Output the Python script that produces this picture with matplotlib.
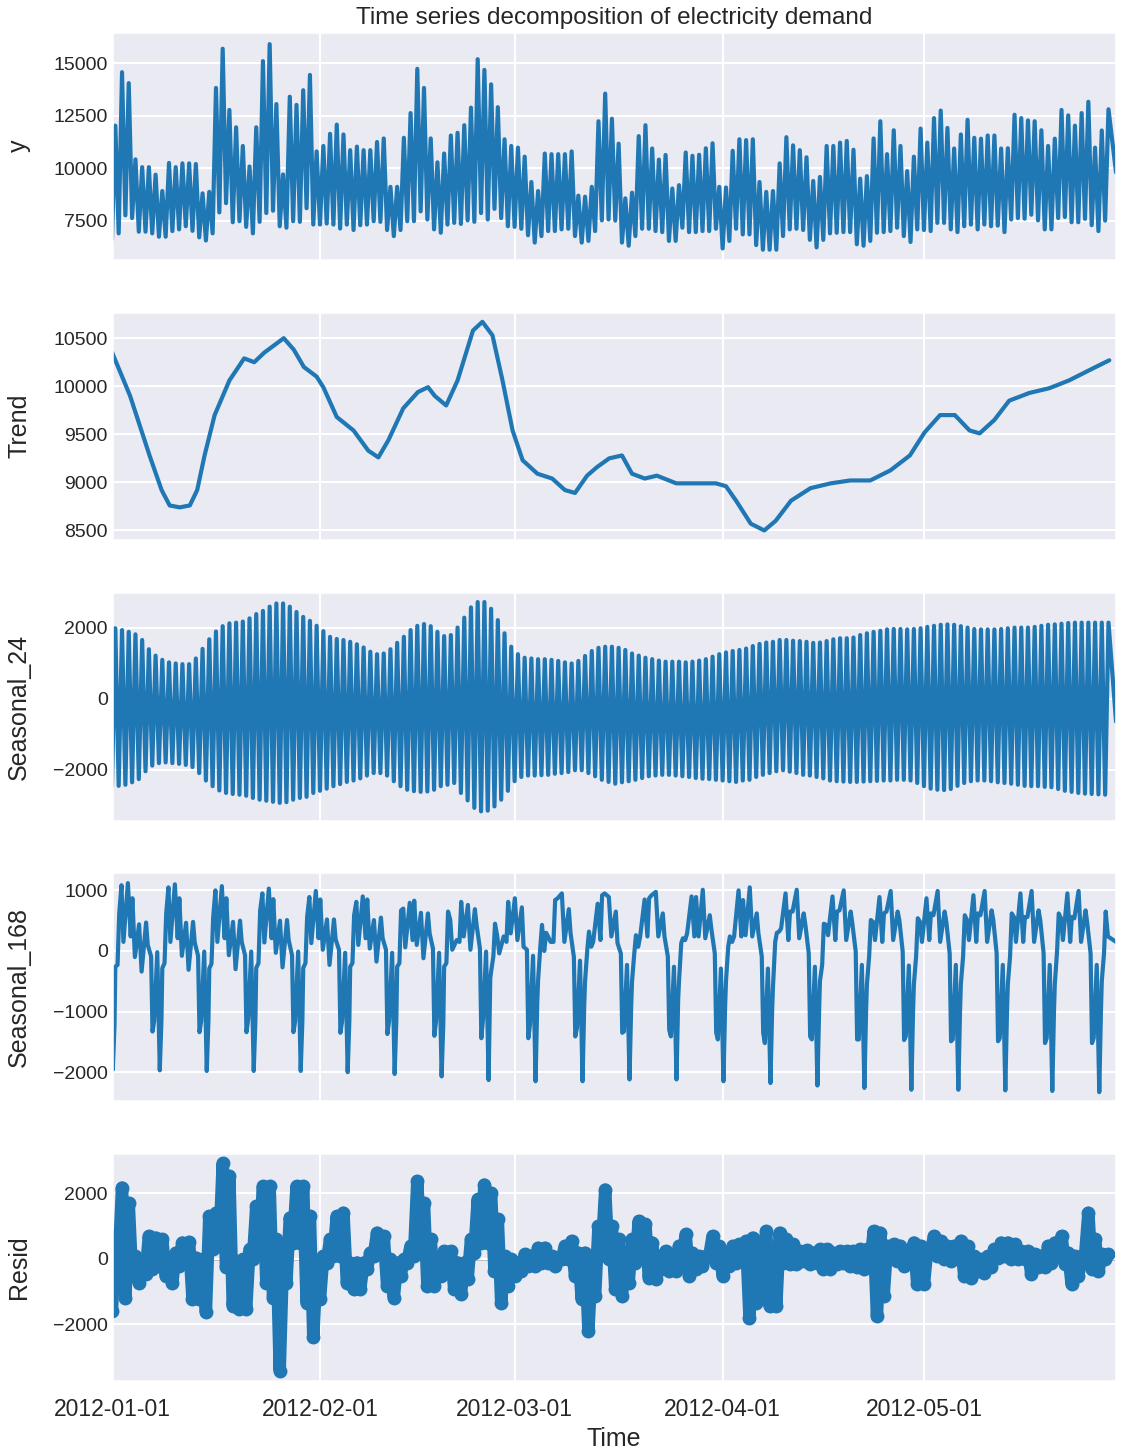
import matplotlib

matplotlib.use("Agg")
import matplotlib.dates as mdates  # noqa: E402
import matplotlib.pyplot as plt  # noqa: E402
import numpy as np  # noqa: E402
import pandas as pd  # noqa: E402
import seaborn as sns  # noqa: E402

START = pd.Timestamp("2012-01-01 00:00")
END = pd.Timestamp("2012-05-29 15:00")
BLUE = "#1f77b4"

# observed demand: daily minimum (start of day) and daily peak (midday), day 0 = 2012-01-01
y_low = [6600,
         6890, 7750, 7620, 6970, 6970, 6890, 6730, 6730, 7000, 7080, 7230, 7010, 6700, 6550, 6890, 7890,
         8330, 7420, 7470, 7200, 6890, 7440, 7860, 7970, 7230, 7160, 7470, 7440, 8090, 7310, 7310, 7360,
         7310, 7120, 7310, 7050, 7280, 7310, 7470, 7440, 7050, 6760, 7050, 7470, 7470, 7940, 7550, 7080,
         6920, 7310, 7390, 7340, 7510, 7440, 7860, 7550, 8060, 7620, 7230, 7200, 7110, 6800, 6450, 6760,
         7000, 7000, 7080, 7110, 6760, 6450, 6530, 7000, 7510, 7550, 7500, 6450, 6300, 6760, 7110, 7110,
         7000, 6950, 6530, 6530, 7160, 6950, 6950, 7000, 7000, 7110, 6170, 6530, 7110, 6840, 6840, 6330,
         6110, 6110, 6110,
         6760, 7080, 7110, 7050, 6580, 6220, 6580, 6890, 6920, 6950, 6950, 6370, 6300, 6530, 6920, 6950,
         7000, 7160, 6760, 6480, 7080, 7050, 7000, 7390, 7390, 7080, 6950, 7230, 7310, 7080, 7310, 7230,
         7260, 6950, 7550, 7620, 7590, 7780, 7510, 7080, 7080, 7620, 7670, 7420, 7420, 7580, 7280, 7000,
         7500]
y_high = [12030, 14580, 14060, 10420, 10050, 10050, 9690, 8910, 10250, 10050, 10230, 10230, 10200, 8800,
          8870, 13830, 15700, 12780, 11950, 11060, 10080, 11950, 15110, 15920, 13060, 9700, 13410, 13020,
          13720, 14450, 10800, 11060, 11640, 12080, 11610, 10860, 11030, 10860, 10860, 11250, 11420, 9110,
          9110, 11450, 12630, 14740, 13830, 11420,
          10280, 10700, 11560, 11690, 12050, 12890, 15200, 14690, 14000, 12910, 11380, 11060, 10980, 10550,
          9340, 8910, 10700, 10670, 10670, 10670, 10800, 8690, 8640, 9110, 12240, 13560, 12360, 11170,
          8560, 8830, 11530, 12050, 10940, 10410, 10630, 9030, 9190, 10750, 10590, 10640, 10950, 11190,
          9110, 9080, 10830, 11380, 11340, 11380, 9340, 8870, 8910,
          10230, 11480, 11090, 10860, 10520, 9390, 9580, 11060, 11060, 11220, 11300, 10880, 9500, 9620,
          11420, 12240, 10670, 11810, 11060, 9860, 10550, 11890, 11220, 12390, 12750, 11920, 10940, 11610,
          12310, 11450, 11410, 11560, 11560, 10940, 10950, 12550, 12390, 12280, 12240, 11810, 11060, 11410,
          12780, 12520, 12030, 12630, 13170, 10980, 11800, 12810]
y_end = 9800

# trend: (day offset, value)
trend_points = [
    (0, 10355), (2.7, 9900), (5.6, 9280), (7.4, 8920), (8.6, 8760), (10.1, 8740), (11.6, 8760),
    (12.7, 8920), (13.8, 9280), (15.3, 9700), (17.5, 10060), (19.7, 10290), (21.2, 10250),
    (22.7, 10350), (25.6, 10500), (27.1, 10380), (28.6, 10200), (30.5, 10100), (31.5, 9990),
    (33.5, 9680), (36.0, 9540), (38.2, 9330), (39.7, 9260), (41.2, 9440), (43.4, 9770), (45.6, 9940),
    (47.1, 9990), (48.1, 9900), (49.8, 9800), (51.5, 10060), (53.8, 10580), (55.2, 10670),
    (56.7, 10530), (58.2, 10060), (59.7, 9540), (61.2, 9230), (63.4, 9090), (65.6, 9040),
    (67.5, 8920), (69.0, 8890), (70.8, 9070), (72.3, 9160), (74.1, 9250), (76.0, 9280), (77.5, 9090),
    (79.4, 9040), (81.2, 9070), (84.1, 8990), (87.1, 8990), (90.0, 8990), (91.5, 8960), (93.0, 8810),
    (95.2, 8570), (97.2, 8500), (98.9, 8600), (101.2, 8810), (104.1, 8940), (107.1, 8990),
    (110.0, 9020), (113.0, 9020), (116.0, 9125), (118.9, 9280), (121.1, 9520), (123.4, 9700),
    (125.6, 9700), (127.8, 9540), (129.3, 9510), (131.5, 9650), (133.7, 9850), (136.7, 9930),
    (139.7, 9980), (142.6, 10060), (146.3, 10190), (148.62, 10270),
]

# daily seasonal component: daily trough (start of day) and daily crest
s24_low = [-2450,
           -2450, -2420, -2350, -2260, -2040, -1880, -1810, -1790, -1810, -1830, -1860, -1920, -2090,
           -2300, -2460, -2580, -2650, -2680, -2700, -2730, -2790, -2840, -2870, -2900, -2930, -2910,
           -2840, -2790, -2760, -2650, -2590, -2530, -2460, -2400, -2340, -2300, -2240, -2160, -2090,
           -2090, -2160, -2320, -2460, -2560, -2600, -2620, -2610, -2560,
           -2460, -2420, -2370, -2650, -2860, -3070, -3170, -3150, -3030, -2840, -2590, -2320, -2200,
           -2160, -2160, -2150, -2140, -2110, -2090, -2060, -2010, -2010, -2090, -2180, -2280, -2340,
           -2390, -2350, -2320, -2280, -2230, -2180, -2160, -2140, -2140, -2160, -2180, -2200, -2230,
           -2250, -2260, -2280, -2300, -2320, -2340, -2300, -2280, -2200, -2140, -2090, -2040,
           -2010, -2050, -2090, -2140, -2160, -2200, -2240, -2300, -2320, -2330, -2340, -2340, -2330,
           -2320, -2310, -2300, -2300, -2280, -2280, -2300, -2370, -2460, -2530, -2560, -2570, -2540,
           -2450, -2370, -2320, -2300, -2300, -2320, -2350, -2370, -2390, -2420, -2450, -2460, -2460,
           -2480, -2490, -2540, -2590, -2620, -2650, -2670, -2680, -2690, -2700]
s24_high = [1990, 1940, 1890, 1820, 1660, 1400, 1220, 1100, 1030, 1000, 980, 980, 1140, 1410, 1680, 1900,
            2050, 2130, 2150, 2180, 2270, 2390, 2480, 2600, 2690, 2690, 2600, 2450, 2310, 2200, 2060,
            1910, 1750, 1690, 1660, 1610, 1540, 1450, 1330, 1260, 1280, 1400, 1580, 1750, 1940, 2060,
            2110, 2050,
            1890, 1770, 1800, 2010, 2290, 2580, 2730, 2730, 2540, 2220, 1850, 1470, 1260, 1160, 1140,
            1120, 1120, 1100, 1070, 1030, 1000, 1070, 1210, 1350, 1440, 1470, 1470, 1440, 1380, 1280,
            1220, 1160, 1120, 1080, 1050, 1050, 1050, 1030, 1050, 1080, 1120, 1190, 1260, 1310, 1350,
            1380, 1420, 1490, 1550, 1590, 1610,
            1660, 1660, 1640, 1630, 1610, 1580, 1590, 1630, 1680, 1710, 1710, 1730, 1800, 1850, 1890,
            1920, 1960, 1970, 1970, 1960, 1970, 1990, 2030, 2060, 2090, 2100, 2090, 2050, 2010, 1970,
            1960, 1960, 1960, 1970, 1990, 2010, 2010, 2010, 2030, 2060, 2090, 2100, 2120, 2140, 2150,
            2150, 2150, 2150, 2150, 2150]
s24_end = -640

# weekly seasonal component, one row per week (weeks start on Sunday 2012-01-01)
s168_hours = [3, 9, 12, 20, 26, 34, 41, 57, 67, 73, 82, 97, 106, 122, 128, 140, 145, 151, 162]
s168_weeks = [
    [-1960, -1240, -260, -230, 620, 1085, 150, 1120, 240, 870, -100, 440, -340, 470, 100, -90, -1330, -1160, -20],
    [-1970, -1130, -285, -200, 620, 1050, 150, 1100, 210, 870, -80, 465, -310, 480, 140, -80, -1340, -1160, -10],
    [-1980, -1150, -290, -210, 560, 1000, 150, 1070, 210, 870, -70, 480, -300, 500, 150, -70, -1340, -1130, -10],
    [-1980, -1150, -280, -200, 670, 950, 140, 1030, 210, 855, -30, 500, -270, 510, 180, -70, -1340, -1160, -10],
    [-1980, -1150, -280, -200, 560, 890, 130, 990, 210, 850, 20, 520, -230, 520, 190, 20, -1350, -1160, -30],
    [-2000, -1150, -260, -200, 590, 810, 100, 900, 210, 850, 40, 510, -175, 550, 210, 20, -1370, -1160, -30],
    [-2030, -1150, -260, -200, 670, 700, 60, 795, 180, 830, 100, 630, -120, 620, 290, 40, -1400, -1160, -30],
    [-2070, -1200, -260, -200, 650, 510, 20, 180, 150, 810, 240, 760, 20, 690, 430, 40, -1440, -1130, -10],
    [-2130, -450, -340, -90, 450, 240, -40, 240, 150, 810, 290, 870, 180, 720, 70, 20, -1440, -1220, -80],
    [-2150, -860, -480, 70, 430, 0, 300, 150, 150, 840, 870, 950, 150, 690, 300, -100, -1410, -1270, -160],
    [-2150, -900, -500, 20, 320, 70, 150, 780, 180, 920, 950, 890, 240, 650, 130, -40, -1350, -1330, -230],
    [-2120, -900, -500, -40, 260, 70, 240, 850, 240, 870, 920, 975, 240, 620, 240, -90, -1300, -1410, -260],
    [-2120, -800, -500, 130, 210, 180, 290, 900, 240, 890, 240, 1010, 210, 590, 350, -40, -1350, -1460, -290],
    [-2150, -900, -500, 70, 240, 150, 240, 1000, 240, 840, 260, 1050, 240, 620, 290, -90, -1350, -1520, -290],
    [-2180, -1000, -600, 150, 300, 320, 370, 950, 180, 650, 650, 1010, 210, 620, 430, -40, -1410, -1460, -260],
    [-2220, -1000, -500, -230, 450, 430, 260, 900, 180, 650, 670, 1000, 180, 650, 450, -10, -1460, -1460, -230],
    [-2260, -1000, -550, -90, 510, 480, 180, 890, 150, 620, 650, 990, 180, 650, 510, -10, -1470, -1410, -240],
    [-2290, -1000, -550, -90, 540, 480, 150, 870, 180, 620, 590, 990, 150, 650, 480, -40, -1490, -1460, -230],
    [-2290, -1000, -550, -90, 590, 510, 180, 920, 150, 620, 590, 990, 150, 670, 510, -40, -1490, -1440, -230],
    [-2300, -1000, -550, -90, 620, 560, 150, 950, 150, 560, 560, 990, 150, 670, 510, -40, -1520, -1440, -230],
    [-2310, -1000, -550, -10, 620, 540, 180, 950, 150, 560, 540, 990, 150, 670, 460, -40, -1520, -1440, -230],
    [-2330, -1000, -500, -40, 650, 240],
]
s168_start = -300
s168_end = 150

# residual: daily lowest and highest values
resid_low = [-1600, -100, -1200, -530, -730, -480, -320, -220, -530, -730, -220, -120, -1240, -1240, -1640,
             300, 390, -270, -1440, -1540, -1540, -20, 490, -730, -1190, -3420, -730, 490, 490, -1340,
             -2400, -1240, -120, 80, 80, -730, -930, -930, -320, 80, 180, -830, -1190, -530, -120, 80,
             180, -830, -830,
             -530, -320, -930, -1090, -630, 180, 490, 490, -380, -1340, -830, -530, -380, -220, -220,
             -120, -120, -220, -20, -20, -530, -1240, -2200, -1140, 280, -20, -930, -1140, -730, -120,
             80, -580, -630, -320, -380, -380, -20, -530, -320, -220, 80, -120, -530, -220, -120, 180,
             -1800, -1340, -20, -1440,
             -1450, -120, -170, -170, -70, -170, -120, -320, -320, -170, -120, -220, -270, -320, -220,
             -1750, -1140, -20, -70, -220, -120, -780, -780, 180, 80, -20, -70, 80, -530, -580, -380,
             -430, -270, 30, 80, -20, -20, -20, -480, -270, -270, -120, 80, -170, -780, -530, 80, -320,
             -380, -20]
resid_high = [700, 2170, 1700, 80, -120, 690, 640, 590, -120, 180, 490, 510, 30, -20, 1300, 1400, 2910,
              2530, -70, -20, 280, 1600, 2210, 2210, 590, 80, 1250, 2210, 2210, 1300, -220, 80, 590, 1300,
              1400, -120, -120, -120, 180, 790, 690, -20, -120, -20, 390, 2370, 1700, 590, -20,
              230, 230, -120, -120, 590, 1810, 2260, 2010, 1200, 80, -20, -120, 130, 80, 330, 330, 80,
              -20, 390, 540, 180, 180, -120, 990, 2110, 990, 590, 80, 590, 1150, 1050, 490, 80, 230, 80,
              390, 740, 180, 80, 80, 690, 390, 80, 390, 440, 540, 640, 180, 840, 280,
              790, 590, 440, 230, 250, 180, 280, 280, 180, 230, 230, 230, 280, 280, 840, 790, 390, 440,
              390, 80, 490, 390, 280, 690, 540, 390, 390, 540, 390, 80, -20, 80, 280, 490, 490, 440, 230,
              230, 130, 80, 390, 490, 690, 180, 80, 80, 1400, 590, 130, 130]

LW = 3.0


def at(days):
    return START + pd.to_timedelta(np.asarray(days, dtype=float), unit="D")


END_DAYS = (END - START) / pd.Timedelta(days=1)


def daily(lows, highs, end_value=None):
    d = np.arange(min(len(lows), len(highs)))
    t = np.column_stack([d, d + 0.5]).ravel()
    v = np.column_stack([lows[:len(d)], highs[:len(d)]]).ravel()
    if end_value is not None:
        t = np.append(t, END_DAYS)
        v = np.append(v, end_value)
    return at(t), v


def weekly():
    t, v = [0.0], [s168_start]
    for k, row in enumerate(s168_weeks):
        for h, val in zip(s168_hours, row):
            t.append(7 * k + h / 24)
            v.append(val)
    t.append(END_DAYS)
    v.append(s168_end)
    return at(t), np.array(v)


def main() -> None:
    sns.set_theme(style="darkgrid", context="talk")
    plt.rcParams["font.family"] = ["Liberation Sans", "DejaVu Sans"]
    plt.rcParams["ytick.labelsize"] = 14
    plt.rcParams["ytick.major.size"] = 0
    plt.rcParams["ytick.major.pad"] = 3
    plt.rcParams["axes.labelpad"] = 16

    fig, axs = plt.subplots(5, 1, sharex=True, figsize=(11.23, 14.53), dpi=100)
    fig.subplots_adjust(left=0.0997, right=0.9938, top=0.978, bottom=0.0496, hspace=0.227)

    t, v = daily(y_low, y_high, y_end)
    axs[0].plot(t, v, color=BLUE, lw=LW)
    axs[0].set_ylabel("y")
    axs[0].set_ylim(5605, 16500)
    axs[0].set_yticks([7500, 10000, 12500, 15000])
    axs[0].set_title("Time series decomposition of electricity demand", fontsize=17.5)

    td, tv = zip(*trend_points)
    axs[1].plot(at(td), tv, color=BLUE, lw=LW)
    axs[1].set_ylabel("Trend")
    axs[1].set_ylim(8396, 10771)
    axs[1].set_yticks([8500, 9000, 9500, 10000, 10500])

    t, v = daily(s24_low, s24_high, s24_end)
    axs[2].plot(t, v, color=BLUE, lw=LW)
    axs[2].set_ylabel("Seasonal_24")
    axs[2].set_ylim(-3430, 3005)
    axs[2].set_yticks([-2000, 0, 2000])

    t, v = weekly()
    axs[3].plot(t, v, color=BLUE, lw=LW)
    axs[3].set_ylabel("Seasonal_168")
    axs[3].set_ylim(-2472, 1296)
    axs[3].set_yticks([-2000, -1000, 0, 1000])

    t, v = daily(resid_low, resid_high)
    ax = axs[4]
    ax.plot([START, END], [0, 0], color="#000000", lw=1, zorder=-3)
    ax.plot(t, v, color=BLUE, lw=9, solid_joinstyle="round", solid_capstyle="round", zorder=1)
    ax.plot(t, v, color=BLUE, marker="o", linestyle="none", zorder=2)
    ax.set_ylabel("Resid")
    ax.set_ylim(-3736, 3240)
    ax.set_yticks([-2000, 0, 2000])

    ax.set_xlim(START, END)
    ax.xaxis.set_major_locator(mdates.MonthLocator())
    ax.xaxis.set_major_formatter(mdates.DateFormatter("%Y-%m-%d"))
    ax.set_xlabel("Time", labelpad=4)

    fig.savefig("out.png", dpi=100)
    plt.close(fig)


if __name__ == "__main__":
    main()
